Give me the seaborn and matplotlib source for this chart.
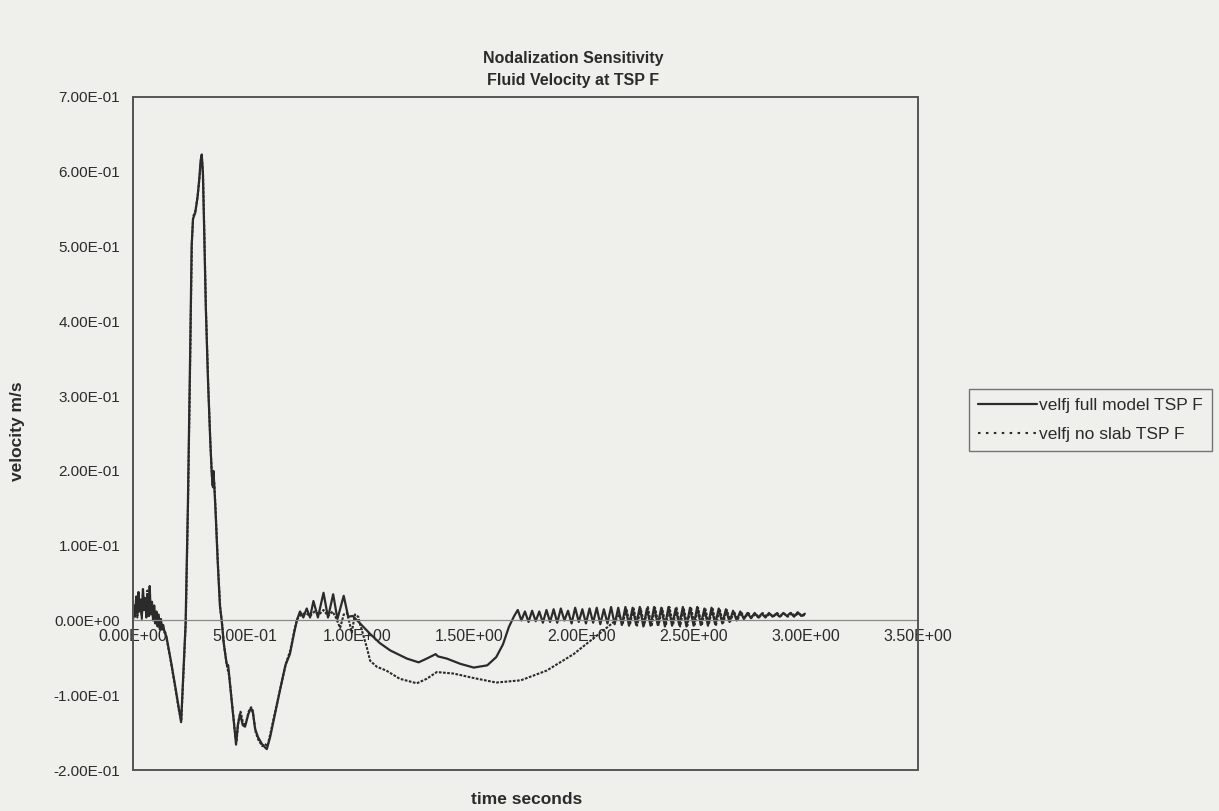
import matplotlib
matplotlib.use("Agg")
import matplotlib.pyplot as plt
from matplotlib.patches import Rectangle
from matplotlib.ticker import FuncFormatter
import seaborn as sns
import pandas as pd

# ---------------- data ----------------
title_lines = ["Nodalization Sensitivity", "Fluid Velocity at TSP F"]
series_names = ["velfj full model TSP F", "velfj no slab TSP F"]
x_label = "time seconds"
y_label = "velocity m/s"

time_full = [
    0.000, 0.005, 0.010, 0.015, 0.020, 0.025, 0.030, 0.035, 0.040, 0.045,
    0.050, 0.055, 0.060, 0.065, 0.070, 0.075, 0.080, 0.085, 0.090, 0.095,
    0.100, 0.105, 0.110, 0.115, 0.120, 0.125, 0.130, 0.135, 0.140, 0.145,
    0.150, 0.170, 0.190, 0.205, 0.215, 0.225, 0.235, 0.245, 0.255, 0.262,
    0.268, 0.278, 0.288, 0.296, 0.302, 0.307, 0.312, 0.318, 0.325, 0.335,
    0.345, 0.352, 0.356, 0.359, 0.362, 0.368, 0.378, 0.388, 0.396, 0.405,
    0.418, 0.425, 0.438, 0.448, 0.455, 0.460, 0.468, 0.478, 0.490, 0.500,
    0.515, 0.525, 0.534, 0.545, 0.558, 0.575, 0.590, 0.597, 0.612, 0.630,
    0.656, 0.680, 0.700, 0.720, 0.731, 0.745, 0.760, 0.775, 0.790, 0.805,
    0.825, 0.850, 0.870, 0.893, 0.912, 0.940, 0.960, 0.980, 1.000, 1.058,
    1.100, 1.147, 1.222, 1.274, 1.310, 1.350, 1.360, 1.400, 1.460, 1.520,
    1.580, 1.620, 1.650, 1.676, 1.700,
    1.716, 1.732, 1.748, 1.764, 1.780, 1.796, 1.812, 1.828, 1.844, 1.860,
    1.876, 1.892, 1.908, 1.924, 1.940, 1.956, 1.972, 1.988, 2.004, 2.020,
    2.036, 2.052, 2.068, 2.084, 2.100, 2.116, 2.132, 2.148, 2.164, 2.180,
    2.196, 2.212, 2.228, 2.244, 2.260, 2.276, 2.292, 2.308, 2.324, 2.340,
    2.356, 2.372, 2.388, 2.404, 2.420, 2.436, 2.452, 2.468, 2.484, 2.500,
    2.516, 2.532, 2.548, 2.564, 2.580, 2.596, 2.612, 2.628, 2.644, 2.660,
    2.676, 2.692, 2.708, 2.724, 2.740, 2.756, 2.772, 2.788, 2.804, 2.820,
    2.836, 2.852, 2.868, 2.884, 2.900, 2.916, 2.932, 2.948, 2.964, 2.980,
    2.996,
]
vel_full = [
    0.000, 0.020, 0.005, 0.032, 0.010, 0.038, 0.012, 0.028, 0.006, 0.042,
    0.015, 0.030, 0.004, 0.035, 0.010, 0.046, 0.008, 0.025, 0.000, 0.020,
    -0.004, 0.012, -0.008, 0.006, -0.010, 0.002, -0.012, -0.006, -0.014, -0.018,
    -0.022, -0.055, -0.090, -0.118, -0.136, -0.070, -0.005, 0.150, 0.350, 0.500,
    0.537, 0.545, 0.565, 0.590, 0.615, 0.623, 0.600, 0.520, 0.420, 0.320,
    0.240, 0.195, 0.180, 0.200, 0.185, 0.150, 0.080, 0.020, 0.000, -0.030,
    -0.058, -0.060, -0.100, -0.129, -0.150, -0.166, -0.140, -0.125, -0.140, -0.142,
    -0.125, -0.118, -0.120, -0.145, -0.156, -0.165, -0.170, -0.172, -0.156, -0.130,
    -0.093, -0.060, -0.045, -0.015, 0.000, 0.012, 0.004, 0.016, 0.004, 0.026,
    0.004, 0.037, 0.004, 0.035, 0.002, 0.033, 0.005, 0.006, 0.000, -0.018,
    -0.030, -0.040, -0.051, -0.056, -0.051, -0.045, -0.048, -0.051, -0.058, -0.063,
    -0.060, -0.049, -0.032, -0.009, 0.006,
    0.014, 0.000, 0.012, -0.002, 0.013, -0.001, 0.012, -0.003, 0.014, -0.002,
    0.015, -0.003, 0.016, 0.000, 0.013, -0.004, 0.017, -0.002, 0.015, -0.004,
    0.016, -0.003, 0.017, -0.005, 0.015, -0.004, 0.018, -0.005, 0.017, -0.006,
    0.018, -0.007, 0.017, -0.006, 0.018, -0.008, 0.016, -0.007, 0.018, -0.006,
    0.017, -0.008, 0.018, -0.007, 0.016, -0.006, 0.018, -0.008, 0.017, -0.007,
    0.018, -0.006, 0.016, -0.007, 0.017, -0.005, 0.016, -0.004, 0.015, -0.002,
    0.013, 0.000, 0.012, 0.002, 0.010, 0.003, 0.010, 0.004, 0.009, 0.004,
    0.010, 0.005, 0.009, 0.005, 0.010, 0.006, 0.010, 0.005, 0.011, 0.006,
    0.009,
]

time_noslab = [
    0.000, 0.005, 0.010, 0.015, 0.020, 0.025, 0.030, 0.035, 0.040, 0.045,
    0.050, 0.055, 0.060, 0.065, 0.070, 0.075, 0.080, 0.085, 0.090, 0.095,
    0.100, 0.105, 0.110, 0.115, 0.120, 0.125, 0.130, 0.135, 0.140, 0.145,
    0.150, 0.170, 0.190, 0.205, 0.216, 0.226, 0.236, 0.246, 0.256, 0.263,
    0.269, 0.279, 0.289, 0.297, 0.303, 0.308, 0.313, 0.319, 0.326, 0.336,
    0.346, 0.353, 0.357, 0.360, 0.364, 0.370, 0.380, 0.390, 0.398, 0.407,
    0.420, 0.430, 0.440, 0.450, 0.458, 0.463, 0.470, 0.480, 0.492, 0.502,
    0.516, 0.527, 0.536, 0.548, 0.560, 0.577, 0.588, 0.600, 0.614, 0.632,
    0.658, 0.682, 0.702, 0.721, 0.733, 0.750, 0.770, 0.790, 0.810, 0.830,
    0.850, 0.870, 0.890, 0.905, 0.924, 0.940, 0.955, 0.976, 0.990, 1.005,
    1.013, 1.043, 1.058, 1.088, 1.130, 1.190, 1.266, 1.310, 1.355, 1.430,
    1.520, 1.620, 1.730, 1.845, 1.965, 2.070, 2.120, 2.152,
    2.168, 2.184, 2.200, 2.216, 2.232, 2.248, 2.264, 2.280, 2.296, 2.312,
    2.328, 2.344, 2.360, 2.376, 2.392, 2.408, 2.424, 2.440, 2.456, 2.472,
    2.488, 2.504, 2.520, 2.536, 2.552, 2.568, 2.584, 2.600, 2.616, 2.632,
    2.648, 2.664, 2.680, 2.696, 2.712, 2.728, 2.744, 2.760, 2.776, 2.792,
    2.808, 2.824, 2.840, 2.856, 2.872, 2.888, 2.904, 2.920, 2.936, 2.952,
    2.968, 2.984, 3.000,
]
vel_noslab = [
    0.000, 0.015, 0.008, 0.030, 0.004, 0.035, 0.018, 0.022, 0.002, 0.038,
    0.012, 0.026, 0.008, 0.040, 0.004, 0.030, 0.014, 0.020, 0.004, 0.016,
    0.000, 0.010, -0.006, 0.008, -0.012, 0.000, -0.010, -0.008, -0.016, -0.016,
    -0.024, -0.056, -0.092, -0.120, -0.134, -0.068, -0.002, 0.155, 0.355, 0.505,
    0.540, 0.548, 0.568, 0.592, 0.612, 0.618, 0.595, 0.515, 0.415, 0.315,
    0.235, 0.190, 0.178, 0.195, 0.180, 0.140, 0.070, 0.015, -0.005, -0.035,
    -0.062, -0.075, -0.105, -0.135, -0.158, -0.160, -0.135, -0.122, -0.138, -0.140,
    -0.122, -0.116, -0.125, -0.150, -0.160, -0.168, -0.165, -0.168, -0.150, -0.125,
    -0.090, -0.058, -0.040, -0.012, 0.002, 0.008, 0.010, 0.006, 0.012, 0.008,
    0.014, 0.006, 0.012, 0.004, -0.010, 0.008, 0.010, -0.016, 0.008, 0.005,
    -0.005, -0.036, -0.054, -0.062, -0.067, -0.078, -0.084, -0.078, -0.069, -0.071,
    -0.077, -0.083, -0.080, -0.067, -0.045, -0.020, -0.008, 0.000,
    0.008, -0.004, 0.016, -0.006, 0.017, -0.007, 0.016, -0.006, 0.018, -0.008,
    0.017, -0.006, 0.016, -0.007, 0.018, -0.006, 0.017, -0.008, 0.016, -0.007,
    0.018, -0.006, 0.017, -0.007, 0.016, -0.005, 0.017, -0.006, 0.015, -0.003,
    0.014, -0.001, 0.012, 0.001, 0.011, 0.003, 0.010, 0.004, 0.009, 0.004,
    0.010, 0.005, 0.009, 0.005, 0.010, 0.006, 0.009, 0.005, 0.010, 0.006,
    0.010, 0.006, 0.008,
]

x_ticks = [0.0, 0.5, 1.0, 1.5, 2.0, 2.5, 3.0, 3.5]
y_ticks = [-0.2, -0.1, 0.0, 0.1, 0.2, 0.3, 0.4, 0.5, 0.6, 0.7]

# ---------------- figure ----------------
sns.set_style("white")
plt.rcParams["font.family"] = ["Liberation Sans", "DejaVu Sans"]

bg = "#efefec"
ink = "#2b2b2b"

fig = plt.figure(figsize=(12.19, 8.11), dpi=100, facecolor=bg)
ax = fig.add_axes([0.109, 0.0505, 0.644, 0.830])
ax.set_facecolor(bg)

df_full = pd.DataFrame({"t": time_full, "v": vel_full})
df_noslab = pd.DataFrame({"t": time_noslab, "v": vel_noslab})

sns.lineplot(data=df_full, x="t", y="v", ax=ax, color=ink, linewidth=1.6,
             estimator=None, sort=False, label=series_names[0],
             solid_joinstyle="round")
sns.lineplot(data=df_noslab, x="t", y="v", ax=ax, color=ink, linewidth=1.5,
             estimator=None, sort=False, label=series_names[1],
             linestyle=(0, (1.3, 0.7)))

ax.set_xlim(0, 3.5)
ax.set_ylim(-0.2, 0.7)
ax.set_xticks(x_ticks)
ax.set_yticks(y_ticks)
fmt = FuncFormatter(lambda v, p: f"{v:.2E}")
ax.xaxis.set_major_formatter(fmt)
ax.yaxis.set_major_formatter(fmt)

# Excel-style: category axis crosses at zero
for s in ["top", "right"]:
    ax.spines[s].set_visible(False)
ax.spines["bottom"].set_position(("data", 0))
ax.spines["bottom"].set_color("#8a8a8a")
ax.spines["bottom"].set_linewidth(0.9)
ax.spines["left"].set_color("#555555")
ax.spines["left"].set_linewidth(1.2)
ax.add_patch(Rectangle((0, 0), 1, 1, transform=ax.transAxes, fill=False,
                       edgecolor="#555555", linewidth=1.4, clip_on=False, zorder=5))

ax.tick_params(axis="x", direction="inout", length=6, width=0.9, color="#666666",
               labelsize=11.5, labelcolor=ink, pad=3)
ax.tick_params(axis="y", direction="inout", length=6, width=0.9, color="#666666",
               labelsize=11, labelcolor=ink, pad=6)

ax.set_xlabel("")
ax.set_ylabel("")
fig.text(527 / 1219, 1 - 800 / 811, x_label, ha="center", va="center",
         fontsize=12.5, fontweight="bold", color=ink)
fig.text(18 / 1219, 1 - 431 / 811, y_label, ha="center", va="center",
         rotation=90, fontsize=12.5, fontweight="bold", color=ink)

fig.text(573 / 1219, 1 - 59 / 811, title_lines[0], ha="center", va="center",
         fontsize=11.5, fontweight="bold", color=ink)
fig.text(573 / 1219, 1 - 81 / 811, title_lines[1], ha="center", va="center",
         fontsize=11.5, fontweight="bold", color=ink)

handles, labels = ax.get_legend_handles_labels()
ax.get_legend().remove()
leg = fig.legend(handles, labels, loc="upper left",
                 bbox_to_anchor=(969 / 1219, 1 - 389 / 811),
                 frameon=True, fancybox=False, fontsize=12.5, handlelength=3.4,
                 handletextpad=0.15, borderpad=0.5, labelspacing=0.8,
                 borderaxespad=0)
leg.get_frame().set_edgecolor("#555555")
leg.get_frame().set_facecolor(bg)
leg.get_frame().set_linewidth(1.0)
leg.legend_handles[1].set_linestyle((0, (1.2, 2.6)))
for t in leg.get_texts():
    t.set_color(ink)

fig.savefig("out.png", dpi=100, facecolor=bg)
